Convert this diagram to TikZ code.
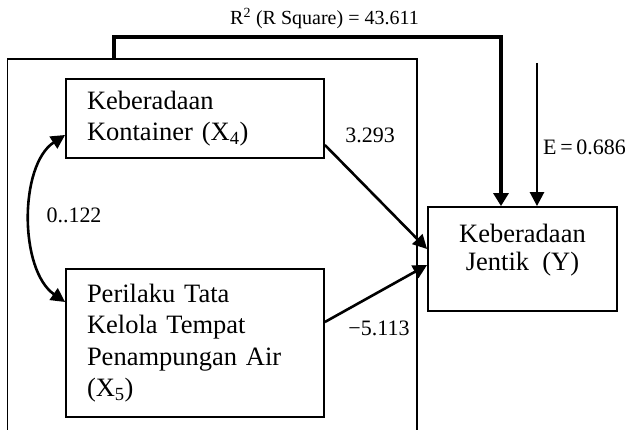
\documentclass[tikz,border=0pt]{standalone}
\usepackage{fontspec}
\setmainfont{Liberation Serif}
\usetikzlibrary{arrows.meta}

\begin{document}
\begin{tikzpicture}[x=1pt,y=-1pt,
  box/.style={draw, line width=1.8pt, inner ysep=0pt, inner xsep=21pt,
    font=\fontsize{26.5}{31.5}\selectfont},
  varbox/.style={box, text width=216pt, minimum width=258pt, align=left},
  lbl/.style={font=\fontsize{22}{26}\selectfont, inner sep=0pt},
  tip/.style={-{Triangle[length=14pt,width=14pt]}},
  path/.style={line width=2.6pt, tip},
  both/.style={line width=2.6pt, {Triangle[length=14pt,width=14pt]}-{Triangle[length=14pt,width=14pt]}}
]
\useasboundingbox (0,0) rectangle (625,430);

% frame around the two independent variables (open at the bottom)
\draw[line width=1.8pt] (7.5,430) -- (7.5,59) -- (417,59) -- (417,430);

% variables
\node[varbox, minimum height=79pt] (x4) at (195,118.5)
  {Keberadaan\\Kontainer (X\textsubscript{4})};
\node[varbox, minimum height=148pt] (x5) at (195,343)
  {Perilaku Tata\\Kelola Tempat\\Penampungan Air\\(X\textsubscript{5})};
\node[box, minimum width=189pt, minimum height=104pt] (y) at (522.5,259) {};
\node[font=\fontsize{26.5}{28.5}\selectfont, align=center, inner sep=0pt] (ytxt)
  at (522.5,250) {Keberadaan\\Jentik~~(Y)};

% correlation between X4 and X5
\draw[both] ([yshift=-16.5pt]x4.west) .. controls (19,165) and (19,270) .. ([yshift=41pt]x5.west);
\node[lbl] (r45) at (74,215) {0..122};

% paths to Y
\draw[path] ([yshift=-26.5pt]x4.east) -- ([yshift=10pt]y.west);
\draw[path] ([yshift=21pt]x5.east) -- ([yshift=-6pt]y.west);
\node[lbl] (p4) at (370,135) {3.293};
\node[lbl] (p5) at (379,328) {−5.113};

% coefficient of determination
\coordinate (rsq) at (114,59);
\draw[line width=4.5pt, -{Triangle[length=13pt,width=15pt]}] (rsq) -- (114,37) -| ([xshift=-21.5pt]y.north);
\node[font=\fontsize{20}{24}\selectfont, anchor=base, inner sep=0pt] (rlbl) at (324.5,25)
  {R\textsuperscript{2} (R Square) = 43.611};

% error term
\coordinate (etop) at (537,63);
\draw[path] (etop) -- (etop |- y.north);
\node[lbl, anchor=west] (elbl) at (543,147) {E\,=\,0.686};
\end{tikzpicture}
\end{document}
